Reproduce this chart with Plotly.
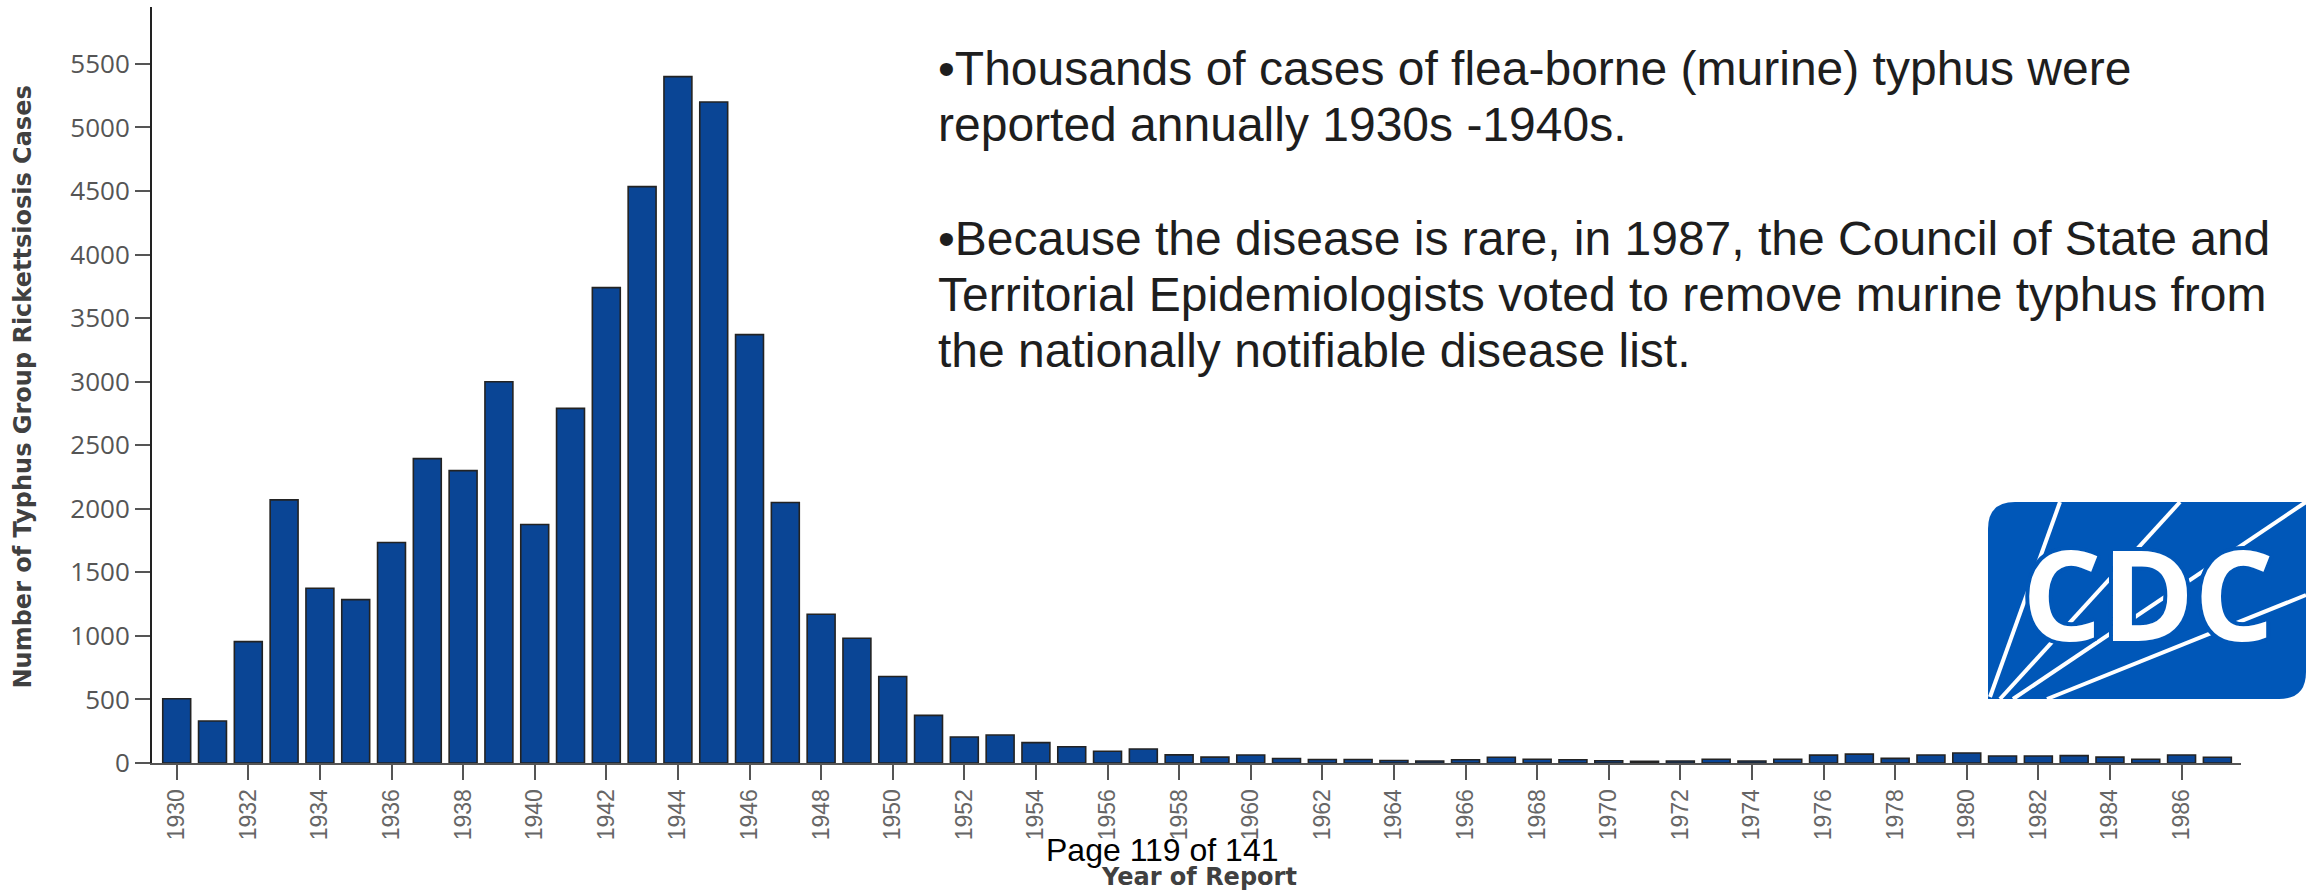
import plotly.graph_objects as go

# ---------------- data ----------------
years = list(range(1930, 1988))
cases = [505, 330, 955, 2070, 1375, 1285, 1735, 2395, 2300, 3000,
         1877, 2790, 3740, 4535, 5400, 5200, 3370, 2050, 1170, 982,
         680, 375, 205, 220, 160, 128, 93, 110, 64, 46,
         63, 35, 27, 27, 20, 16, 26, 45, 29, 26,
         18, 13, 16, 29, 16, 29, 62, 70, 36, 63,
         79, 55, 55, 58, 46, 30, 63, 45]
x_tick_years = list(range(1930, 1987, 2))
x_tick_labels = [str(y) for y in x_tick_years]
y_tick_vals = list(range(0, 5501, 500))
y_tick_labels = [str(v) for v in y_tick_vals]

y_title = "Number of Typhus Group Rickettsiosis Cases"
x_title = "Year of Report"
page_text = "Page 119 of 141"
note_lines = [
    "•Thousands of cases of flea-borne (murine) typhus were",
    "reported annually 1930s -1940s.",
    "•Because the disease is rare, in 1987, the Council of State and",
    "Territorial Epidemiologists voted to remove murine typhus from",
    "the nationally notifiable disease list.",
]
logo_text = "CDC"

# ---------------- layout geometry (pixels) ----------------
W, H = 2315, 892
PL, PR, PT, PB = 152, 2241, 7, 763


def px(x, y):
    return (x - PL) / (PR - PL), (PB - y) / (PB - PT)


def pstr(x, y):
    a, b = px(x, y)
    return f"{a:.5f},{b:.5f}"


fig = go.Figure()
fig.add_trace(go.Bar(
    x=years, y=cases,
    marker=dict(color="#0a4595", line=dict(color="#232323", width=1.6)),
    hoverinfo="x+y",
))

annotations = []
# axis titles
ax, ay = px(22.5, 387)
annotations.append(dict(text=y_title, x=ax, y=ay, xref="paper", yref="paper",
                        textangle=-90, showarrow=False, xanchor="center", yanchor="middle",
                        font=dict(family="DejaVu Sans", size=24, color="#404040", weight="bold")))
ax, ay = px(1199, 877)
annotations.append(dict(text=x_title, x=ax, y=ay, xref="paper", yref="paper",
                        showarrow=False, xanchor="center", yanchor="middle",
                        font=dict(family="DejaVu Sans", size=24, color="#404040", weight="bold")))
ax, ay = px(1162, 850)
annotations.append(dict(text=page_text, x=ax, y=ay, xref="paper", yref="paper",
                        showarrow=False, xanchor="center", yanchor="middle",
                        font=dict(family="Liberation Sans, Arial", size=32, color="#000000")))
# body text
line_centers = [68, 124, 238, 294, 350]
for t, yc in zip(note_lines, line_centers):
    ax, ay = px(936, yc)
    annotations.append(dict(text=t, x=ax, y=ay, xref="paper", yref="paper",
                            showarrow=False, xanchor="left", yanchor="middle",
                            font=dict(family="Liberation Sans, Arial", size=48, color="#1e1e1e")))

# CDC logo
LB = "#0057b8"
x0, y0, x1, y1, r = 1988, 502, 2306, 699, 27
logo_path = (f"M {pstr(x0 + r, y0)} L {pstr(x1, y0)} L {pstr(x1, y1 - r)} "
             f"Q {pstr(x1, y1)} {pstr(x1 - r, y1)} L {pstr(x0, y1)} L {pstr(x0, y0 + r)} "
             f"Q {pstr(x0, y0)} {pstr(x0 + r, y0)} Z")
shapes = [dict(type="path", path=logo_path, xref="paper", yref="paper",
               fillcolor=LB, line=dict(width=0), layer="above")]
rays = [((1990, 697), (2060, 502)),
        ((2000, 699), (2180, 502)),
        ((2013, 699), (2306, 502)),
        ((2047, 699), (2306, 595))]
for (xa, ya), (xb, yb) in rays:
    a0, b0 = px(xa, ya)
    a1, b1 = px(xb, yb)
    shapes.append(dict(type="line", x0=a0, y0=b0, x1=a1, y1=b1, xref="paper", yref="paper",
                       line=dict(color="white", width=4), layer="above"))
shadow = ", ".join(f"{dx}px {dy}px 0 {LB}" for dx, dy in
                   [(4, 0), (-4, 0), (0, 4), (0, -4), (3, 3), (-3, -3), (3, -3), (-3, 3)])
ax, ay = px(2148, 592)
annotations.append(dict(text=logo_text, x=ax, y=ay, xref="paper", yref="paper",
                        showarrow=False, xanchor="center", yanchor="middle",
                        font=dict(family="Open Sans", size=125, color="white", weight="bold",
                                  shadow=shadow)))

fig.update_layout(
    width=W, height=H,
    margin=dict(l=PL, r=W - PR, t=PT, b=H - PB, autoexpand=False),
    paper_bgcolor="white", plot_bgcolor="white",
    bargap=0.22, showlegend=False,
    annotations=annotations, shapes=shapes,
    xaxis=dict(range=[1929.31, 1987.66], tickmode="array", tickvals=x_tick_years,
               ticktext=x_tick_labels, tickangle=-90, showgrid=False, zeroline=False,
               showline=True, linecolor="#555555", linewidth=2,
               ticks="outside", ticklen=15, tickwidth=2, tickcolor="#555555",
               tickfont=dict(family="Liberation Sans, Arial", size=23, color="#666666")),
    yaxis=dict(range=[0, 5948], tickmode="array", tickvals=y_tick_vals, ticktext=y_tick_labels,
               showgrid=False, zeroline=False, showline=True, linecolor="#222222", linewidth=2,
               ticks="outside", ticklen=15, tickwidth=2, tickcolor="#555555",
               tickfont=dict(family="Open Sans", size=26, color="#555555")),
)

fig.write_html("out.html", config={"displayModeBar": False},
               post_script="document.body.style.margin='0px';")
